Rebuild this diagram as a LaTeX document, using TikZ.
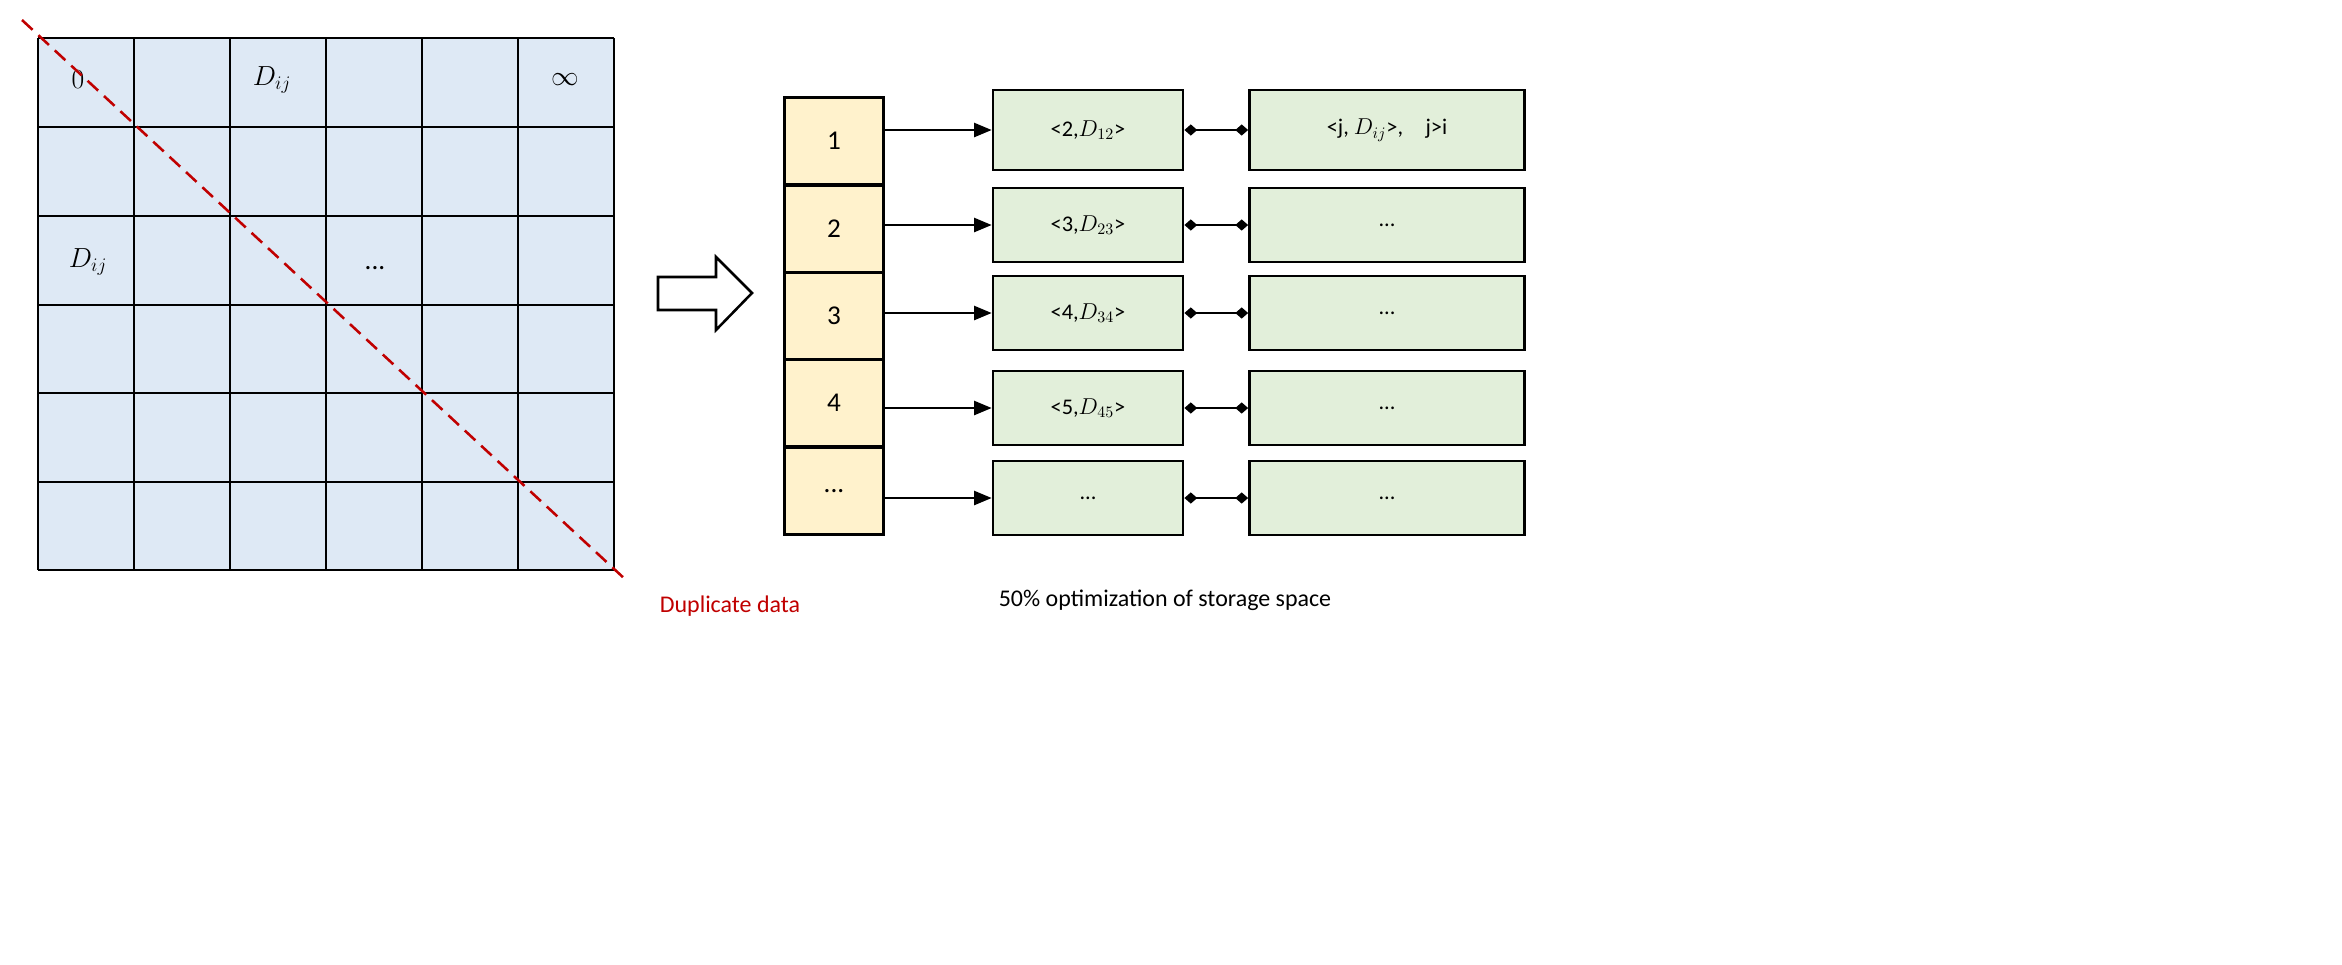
\documentclass[tikz,border=0pt]{standalone}
\usepackage{fontspec}
\setmainfont{Carlito}
\usetikzlibrary{arrows.meta}
\definecolor{cellblue}{HTML}{DEE9F5}
\definecolor{idx}{HTML}{FFF2CC}
\definecolor{grn}{HTML}{E2EFDA}
\definecolor{dred}{HTML}{C00000}
\newcommand{\dts}{...}
\tikzset{
 idxbox/.style={draw,line width=1.8pt,fill=idx,minimum width=2.16cm,minimum height=1.91cm,font=\fontsize{17}{19}\selectfont,inner sep=0},
 gbox/.style={draw,line width=1.8pt,fill=grn,minimum height=1.63cm,font=\fontsize{14}{16}\selectfont,inner sep=0},
 arr/.style={-{Triangle[length=11pt,width=9pt]},line width=0.9pt},
 dia/.style={{Diamond[length=8pt,width=7pt]}-{Diamond[length=8pt,width=7pt]},line width=0.9pt},
 celltxt/.style={font=\fontsize{17}{19}\selectfont}
}
\begin{document}
\begin{tikzpicture}[x=0.022cm,y=-0.022cm]
\useasboundingbox (0,0) rectangle (2342,964);
% grid
\fill[cellblue] (38,38) rectangle (614,570);
\foreach \x in {38,134,230,326,422,518,614} \draw[line width=1.8pt] (\x,38) -- (\x,570);
\foreach \y in {38,127,216,305,393,482,570} \draw[line width=1.8pt] (38,\y) -- (614,\y);
\node[celltxt] (c0) at (78,80) {$0$};
\node[celltxt] (c1) at (272,80) {$D_{ij}$};
\node[celltxt] (c2) at (565,80) {$\infty$};
\node[celltxt] (c3) at (88,262) {$D_{ij}$};
\node[celltxt] (c4) at (375,268) {\dts};
\draw[dred,line width=1.6pt,dash pattern=on 9pt off 5pt] (22,20) -- (626,580);
\node[dred,font=\fontsize{15}{17}\selectfont] (dup) at (730,606) {Duplicate data};
% hollow arrow
\draw[line width=1.6pt,fill=white] (658,277) -- (716,277) -- (716,257) -- (752,293) -- (716,330) -- (716,310) -- (658,310) -- cycle;
% index column
\node[idxbox] (i1) at (834,141) {1};
\node[idxbox] (i2) at (834,229) {2};
\node[idxbox] (i3) at (834,316) {3};
\node[idxbox] (i4) at (834,403) {4};
\node[idxbox] (i5) at (834,491) {\dts};
% green boxes
\node[gbox,minimum width=4.18cm,minimum height=1.76cm] (a1) at (1088,130) {<2,$D_{12}$>};
\node[gbox,minimum width=6.05cm,minimum height=1.76cm] (b1) at (1387,130) {<j, $D_{ij}$>,\quad j>i};
\node[gbox,minimum width=4.18cm] (a2) at (1088,225) {<3,$D_{23}$>};
\node[gbox,minimum width=6.05cm] (b2) at (1387,225) {\dts};
\node[gbox,minimum width=4.18cm] (a3) at (1088,313) {<4,$D_{34}$>};
\node[gbox,minimum width=6.05cm] (b3) at (1387,313) {\dts};
\node[gbox,minimum width=4.18cm] (a4) at (1088,408) {<5,$D_{45}$>};
\node[gbox,minimum width=6.05cm] (b4) at (1387,408) {\dts};
\node[gbox,minimum width=4.18cm] (a5) at (1088,498) {\dts};
\node[gbox,minimum width=6.05cm] (b5) at (1387,498) {\dts};
\foreach \i in {1,...,5}{
  \draw[arr] (i\i.east |- a\i.west) -- (a\i.west);
  \draw[dia] (a\i.east) -- (b\i.west);
}
\node[font=\fontsize{15}{17}\selectfont] (note) at (1165,600) {50\% optimization of storage space};
\end{tikzpicture}
\end{document}
